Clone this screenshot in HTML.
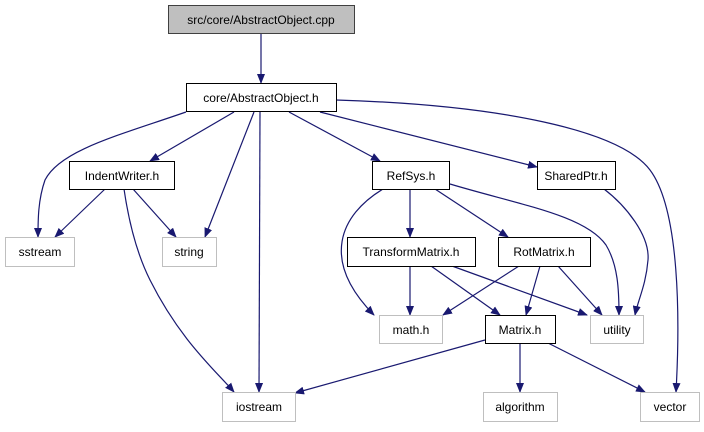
<!DOCTYPE html>
<html><head><meta charset="utf-8"><style>
body{margin:0;background:#fff}
svg text{font-family:"Liberation Sans",sans-serif;font-size:12px;text-anchor:middle}
</style></head><body>
<svg width="704" height="427" xmlns="http://www.w3.org/2000/svg">
<defs><marker id="a" markerWidth="10" markerHeight="8" refX="9" refY="4" orient="auto" markerUnits="userSpaceOnUse"><path d="M0,0 L10,4 L0,8 z" fill="#191970"/></marker></defs>
<g fill="none" stroke="#191970" stroke-width="1.2" marker-end="url(#a)">
<path d="M261,34 L261,83"/>
<path d="M186,112 C120,135 60,150 45,180 C38,200 38,220 38,237"/>
<path d="M234,112 L150,161"/>
<path d="M254,112 L205,237"/>
<path d="M260,112 L259,392"/>
<path d="M289,112 L380,161"/>
<path d="M320,112 L537,167"/>
<path d="M336,100 C500,105 620,130 650,170 C680,210 680,320 676,392"/>
<path d="M105,189 L55,237"/>
<path d="M133,189 L176,237"/>
<path d="M124,189 C130,230 140,260 150,280 C180,340 215,370 234,392"/>
<path d="M383,189 C340,215 320,260 374,315"/>
<path d="M410,189 L410,237"/>
<path d="M435,189 L508,237"/>
<path d="M450,184 C520,205 585,215 606,245 C618,265 619,290 619,315"/>
<path d="M604,189 C625,205 650,235 648,260 C646,285 638,300 635,315"/>
<path d="M410,266 L410,315"/>
<path d="M431,266 L500,315"/>
<path d="M452,266 L587,315"/>
<path d="M519,266 L443,315"/>
<path d="M540,266 L526,315"/>
<path d="M558,266 L602,315"/>
<path d="M485,340 L295,393"/>
<path d="M520,343 L520,392"/>
<path d="M548,343 L645,392"/>
</g>
<g stroke-width="1">
<rect x="168.5" y="5.5" width="186" height="28" fill="#bfbfbf" stroke="#404040"/>
<rect x="186.5" y="83.5" width="150" height="28" fill="#fff" stroke="#000"/>
<rect x="69.5" y="161.5" width="105" height="28" fill="#fff" stroke="#000"/>
<rect x="372.5" y="161.5" width="77" height="28" fill="#fff" stroke="#000"/>
<rect x="537.5" y="161.5" width="78" height="28" fill="#fff" stroke="#000"/>
<rect x="5.5" y="237.5" width="69" height="29" fill="#fff" stroke="#bfbfbf"/>
<rect x="162.5" y="237.5" width="54" height="29" fill="#fff" stroke="#bfbfbf"/>
<rect x="347.5" y="237.5" width="128" height="29" fill="#fff" stroke="#000"/>
<rect x="498.5" y="237.5" width="92" height="29" fill="#fff" stroke="#000"/>
<rect x="379.5" y="315.5" width="63" height="28" fill="#fff" stroke="#bfbfbf"/>
<rect x="485.5" y="315.5" width="70" height="28" fill="#fff" stroke="#000"/>
<rect x="590.5" y="315.5" width="53" height="28" fill="#fff" stroke="#bfbfbf"/>
<rect x="222.5" y="392.5" width="73" height="29" fill="#fff" stroke="#bfbfbf"/>
<rect x="483.5" y="392.5" width="74" height="29" fill="#fff" stroke="#bfbfbf"/>
<rect x="640.5" y="392.5" width="59" height="29" fill="#fff" stroke="#bfbfbf"/>
</g>
<g fill="#000">
<text x="261" y="24">src/core/AbstractObject.cpp</text>
<text x="261" y="102">core/AbstractObject.h</text>
<text x="122" y="180">IndentWriter.h</text>
<text x="411" y="180">RefSys.h</text>
<text x="576" y="180">SharedPtr.h</text>
<text x="40" y="256">sstream</text>
<text x="189" y="256">string</text>
<text x="411" y="256">TransformMatrix.h</text>
<text x="544" y="256">RotMatrix.h</text>
<text x="411" y="334">math.h</text>
<text x="520" y="334">Matrix.h</text>
<text x="617" y="334">utility</text>
<text x="259" y="411">iostream</text>
<text x="520" y="411">algorithm</text>
<text x="670" y="411">vector</text>
</g>
</svg>
</body></html>
